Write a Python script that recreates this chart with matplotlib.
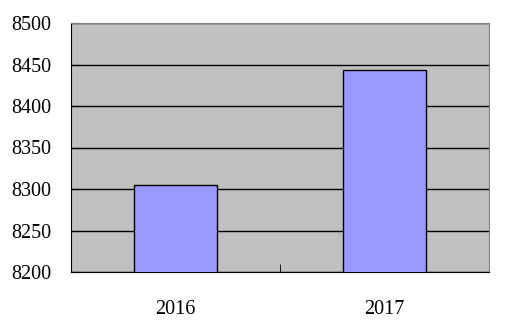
import matplotlib
matplotlib.use("Agg")
import matplotlib.pyplot as plt

categories = ["2016", "2017"]
values = [8305, 8443]
yticks = [8200, 8250, 8300, 8350, 8400, 8450, 8500]

fig = plt.figure(figsize=(5.18, 3.24), dpi=100)
ax = fig.add_axes([71/518, 1-272/324, (489-71)/518, (272-23)/324])
ax.set_facecolor("#c0c0c0")
x = list(range(len(categories)))
ax.bar(x, values, width=0.4, color="#9999ff", edgecolor="black", linewidth=1, zorder=3)
ax.set_xlim(-0.5, 1.5)
ax.set_ylim(8200, 8500)
ax.set_yticks(yticks)
ax.set_yticklabels([str(t) for t in yticks], fontfamily="Liberation Serif", fontsize=14.5)
ax.set_xticks(x)
ax.set_xticklabels(categories, fontfamily="Liberation Serif", fontsize=14.5)
ax.tick_params(axis="x", length=0, pad=20)
ax.set_xticks([-0.5, 0.5, 1.5], minor=True)
ax.tick_params(axis="x", which="minor", direction="in", length=6, color="black")
ax.tick_params(axis="y", direction="in", length=6, pad=14, color="black")
ax.yaxis.grid(True, color="black", linewidth=1)
ax.set_axisbelow(True)
for s in ["top", "right"]:
    ax.spines[s].set_color("#808080")
for s in ["left", "bottom"]:
    ax.spines[s].set_color("black")
fig.savefig("out.png", dpi=100)
